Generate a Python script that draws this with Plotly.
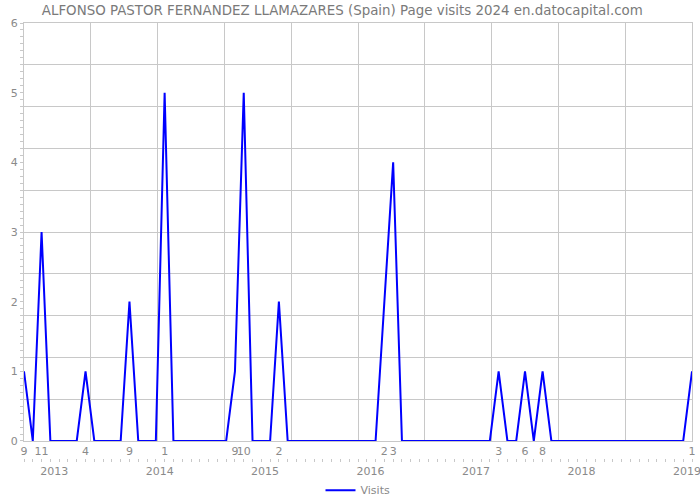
import pandas as pd
import plotly.graph_objects as go

# ---- data -------------------------------------------------------------
months = [d.strftime("%Y-%m") for d in pd.date_range("2012-09-01", "2019-01-01", freq="MS")]
visits = [
    1, 0, 3, 0,                                   # 2012-09 .. 2012-12
    0, 0, 0, 1, 0, 0, 0, 0, 2, 0, 0, 0,           # 2013
    5, 0, 0, 0, 0, 0, 0, 0, 1, 5, 0, 0,           # 2014
    0, 2, 0, 0, 0, 0, 0, 0, 0, 0, 0, 0,           # 2015
    0, 2, 4, 0, 0, 0, 0, 0, 0, 0, 0, 0,           # 2016
    0, 0, 1, 0, 0, 1, 0, 1, 0, 0, 0, 0,           # 2017
    0, 0, 0, 0, 0, 0, 0, 0, 0, 0, 0, 0,           # 2018
    1,                                            # 2019-01
]
y_ticks = [0, 1, 2, 3, 4, 5, 6]
title = "ALFONSO PASTOR FERNANDEZ LLAMAZARES (Spain) Page visits 2024 en.datocapital.com"
series_name = "Visits"

# ---- derived ----------------------------------------------------------
xi = list(range(len(months)))
month_tickvals = [i for i, v in zip(xi, visits) if v > 0]
month_ticktext = [str(int(months[i][5:])) for i in month_tickvals]
year_tickvals = xi
year_ticktext = [m[:4] if m.endswith("-01") else "" for m in months]
xmax = xi[-1]

GRID = "#c8c8c8"
TXT = "#8a8a8a"
FONT = "DejaVu Sans"

fig = go.Figure()
fig.add_trace(go.Scatter(
    x=xi, y=visits, mode="lines", name=series_name,
    line=dict(color="#0000ff", width=2),
    xaxis="x", yaxis="y",
))
# dummy traces to realise helper axes
fig.add_trace(go.Scatter(x=[None], y=[None], xaxis="x2", yaxis="y3",
                         showlegend=False, hoverinfo="skip"))
fig.add_trace(go.Scatter(x=[None], y=[None], xaxis="x3", yaxis="y2",
                         showlegend=False, hoverinfo="skip"))

fig.update_layout(
    width=700, height=500,
    margin=dict(l=24, r=8, t=23, b=42, autoexpand=False),
    paper_bgcolor="white", plot_bgcolor="white",
    font=dict(family=FONT, size=11, color=TXT),
    title=dict(text=title, x=0.489, xref="container", xanchor="center",
               y=0.98, yanchor="middle",
               font=dict(family=FONT, size=13.4, color="#7a7a7a")),
    showlegend=True,
    legend=dict(orientation="h", x=0.5, xanchor="center", y=-0.074,
                yanchor="middle", font=dict(size=11, color=TXT)),
    xaxis=dict(
        range=[0, xmax], domain=[0, 1], anchor="y", automargin=False,
        tickmode="array", tickvals=month_tickvals, ticktext=month_ticktext,
        tickangle=0, ticks="", showgrid=False, zeroline=False,
        showline=True, linecolor=GRID, mirror=True,
        ticklabeloverflow="allow",
        tickfont=dict(size=11, color=TXT),
    ),
    xaxis2=dict(
        overlaying="x", anchor="y3", range=[0, xmax], automargin=False,
        tickmode="linear", tick0=0, dtick=xmax / 10,
        showgrid=True, gridcolor=GRID, showticklabels=False, ticks="",
        zeroline=False, showline=False,
    ),
    xaxis3=dict(
        anchor="y2", domain=[0, 1], range=[0, xmax], automargin=False,
        tickmode="array", tickvals=year_tickvals, ticktext=year_ticktext,
        ticks="outside", ticklen=3, tickcolor=GRID, tickangle=0,
        ticklabelshift=-5, ticklabeloverflow="allow",
        showgrid=False, zeroline=False, showline=False,
        tickfont=dict(size=11, color=TXT),
    ),
    yaxis=dict(
        range=[0, 6], domain=[0.0391, 1], anchor="x", automargin=False,
        tickmode="array", tickvals=y_ticks,
        ticks="outside", ticklen=3, tickcolor=GRID,
        minor=dict(tickmode="linear", tick0=0, dtick=0.1, ticks="outside",
                   ticklen=3, tickcolor=GRID, showgrid=False),
        showgrid=False, zeroline=False,
        showline=True, linecolor=GRID, mirror=True,
        tickfont=dict(size=11, color=TXT),
    ),
    yaxis3=dict(
        overlaying="y", anchor="x2", range=[0, 6], automargin=False,
        tickmode="linear", tick0=0, dtick=0.6,
        showgrid=True, gridcolor=GRID, showticklabels=False, ticks="",
        zeroline=False, showline=False,
    ),
    yaxis2=dict(domain=[0, 0.001], anchor="x3", visible=False, range=[0, 1],
                automargin=False),
)

fig.write_html("out.html")
